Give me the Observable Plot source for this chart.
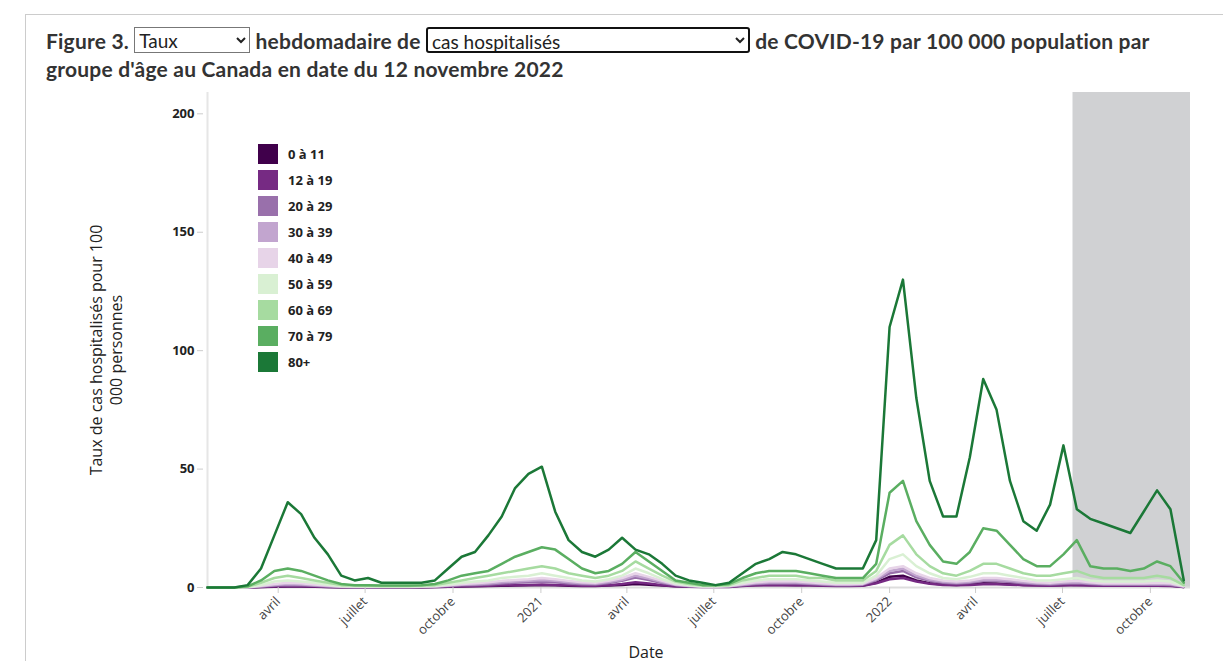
<!DOCTYPE html>
<html>
<head>
<meta charset="utf-8">
<script src="https://cdn.jsdelivr.net/npm/d3@7"></script>
<script src="https://cdn.jsdelivr.net/npm/@observablehq/plot@0.6"></script>
<style>
  body { margin: 0; background: #fff; font-family: Lato, "Open Sans", sans-serif; }
  #frame { position: absolute; left: 25px; top: 14px; width: 1205px; height: 660px; border: 1px solid #ccc; border-bottom: none; }
  #title { position: absolute; left: 46px; top: 27px; width: 1170px; font-size: 21px; font-weight: bold; color: #333; line-height: 28px; letter-spacing: 0.2px; white-space: nowrap; }
  #title select { font-family: Lato, sans-serif; font-size: 19px; color: #222; background: #fff; border: 1px solid #777; height: 26px; vertical-align: top; margin-top: 0px; letter-spacing: 0; }
  #chart { position: absolute; left: 0; top: 88px; }
  #ylabel { position: absolute; left: 38px; top: 350px; width: 300px; transform: translate(-50%, -50%) rotate(-90deg); transform-origin: 50% 50%; margin-left: 68px; text-align: center; font-family: "Open Sans", sans-serif; font-size: 16px; color: #222; line-height: 20px; }
  #legend { position: absolute; left: 258px; top: 144px; font-family: "Open Sans", sans-serif; font-size: 13px; font-weight: bold; color: #222; }
  #legend div { height: 26px; display: flex; align-items: flex-start; }
  #legend span.sw { display: inline-block; width: 20px; height: 20px; margin-right: 10px; }
  #legend span.tx { line-height: 20px; }
</style>
</head>
<body>
<div id="frame"></div>
<div id="title">Figure 3. <select style="width:116px"><option>Taux</option></select> hebdomadaire de <select style="width:324px;border:2px solid #111;border-radius:3px"><option>cas hospitalisés</option></select> de COVID-19 par 100 000 population par<br>groupe d'âge au Canada en date du 12 novembre 2022</div>
<div id="chart"></div>
<div id="ylabel">Taux de cas hospitalisés pour 100<br>000 personnes</div>
<div id="legend"></div>
<script>
const groups = ["0 à 11", "12 à 19", "20 à 29", "30 à 39", "40 à 49", "50 à 59", "60 à 69", "70 à 79", "80+"];
const colors = ["#40004b", "#762a83", "#9970ab", "#c2a5cf", "#e7d4e8", "#d9f0d3", "#a6dba0", "#5aae61", "#1b7837"];

const a0 = [0,0,0,0,0.2,0.3,0.4,0.4,0.3,0.2,0.1,0.1,0.1,0.1,0.1,0.1,0.1,0.2,0.3,0.4,0.5,0.6,0.7,0.8,0.9,1,0.9,0.7,0.6,0.6,0.8,1.1,1.5,1.2,0.8,0.5,0.4,0.3,0.3,0.4,0.8,1,1.1,1.1,1,0.9,0.8,0.7,0.7,0.8,2,4.5,5,3,1.8,1.3,1.1,1.4,1.8,1.7,1.4,1.1,0.9,0.8,1,1.2,1,0.9,0.9,0.9,0.9,1,0.8,0.2];
const a12 = [0,0,0,0,0.2,0.4,0.5,0.5,0.4,0.2,0.1,0.1,0.1,0.1,0.1,0.1,0.1,0.2,0.3,0.5,0.6,0.7,0.9,1,1.1,1.3,1.1,0.9,0.7,0.7,1,1.5,2.2,1.7,1,0.5,0.3,0.2,0.2,0.2,0.6,0.9,1,1,1,0.9,0.7,0.6,0.6,0.7,1.8,3.5,4,2.5,1.6,1.1,0.9,1.1,1.4,1.4,1.2,1,0.8,0.7,0.9,1,0.8,0.7,0.7,0.7,0.7,0.7,0.6,0.2];
const a20 = [0,0,0,0,0.4,0.8,1.1,1,0.7,0.4,0.2,0.2,0.2,0.2,0.2,0.2,0.2,0.3,0.6,0.9,1.1,1.3,1.7,2,2.2,2.5,2.2,1.7,1.4,1.3,1.9,2.8,4.2,3.2,1.9,1,0.5,0.3,0.3,0.4,1,1.5,1.7,1.7,1.7,1.5,1.2,1,1,1.2,3,6,7,4.3,2.8,2,1.7,2,2.7,2.7,2.3,1.8,1.5,1.3,1.6,1.8,1.5,1.2,1.2,1.2,1.2,1.3,1.1,0.3];
const a30 = [0,0,0,0.1,0.5,1.1,1.5,1.3,1,0.6,0.3,0.2,0.2,0.2,0.2,0.2,0.3,0.4,0.8,1.2,1.4,1.7,2.2,2.5,2.8,3.2,2.8,2.2,1.8,1.6,2.3,3.3,5,3.8,2.3,1.2,0.6,0.3,0.3,0.5,1.2,1.8,2.1,2.1,2.1,1.8,1.5,1.2,1.2,1.4,3.5,7,8,5,3.3,2.4,2,2.4,3.2,3.2,2.8,2.2,1.8,1.6,2,2.2,1.8,1.5,1.5,1.5,1.5,1.6,1.4,0.4];
const a40 = [0,0,0,0.1,0.7,1.5,2,1.8,1.3,0.8,0.4,0.3,0.3,0.3,0.3,0.3,0.4,0.5,1,1.5,1.8,2.2,2.8,3.2,3.5,4,3.5,2.8,2.2,2,2.8,4,6,4.5,2.8,1.4,0.8,0.4,0.4,0.6,1.5,2.2,2.6,2.6,2.6,2.2,1.8,1.5,1.5,1.6,4,8,9,6,4,3,2.5,3,4,4,3.5,2.8,2.2,2,2.5,2.8,2.2,1.8,1.8,1.8,1.8,2,1.8,0.5];
const a50 = [0,0,0,0.2,1,2.5,3,2.5,2,1.2,0.6,0.5,0.4,0.4,0.4,0.4,0.5,0.7,1.3,2,2.5,3,4,4.5,5,6,5,4,3,2.5,3.5,5,8,6,3.5,1.8,1,0.5,0.5,0.8,2,3,3.5,3.5,3.5,3,2.5,2,2,2,5,12,14,9,6,4,3.5,4.5,6,6,5,4,3,3,3.5,4,3,2.5,2.5,2.5,2.5,3,2.5,0.8];
const a60 = [0,0,0,0.3,2,4,5,4,3,2,1,0.8,0.7,0.6,0.6,0.6,0.8,1,2,3,4,5,6,7,8,9,8,6,5,4,5,7,11,8,5,2.5,1.5,0.8,0.8,1,3,4,5,5,5,4,4,3,3,3,7,18,22,14,9,6,5,7,10,10,8,6,5,5,6,7,5,4,4,4,4,5,4,1];
const a70 = [0,0,0,0.5,3,7,8,7,5,3,1.5,1,1,0.8,0.8,0.8,1,1.5,3,5,6,7,10,13,15,17,16,12,8,6,7,10,15,11,7,3,2,1,1,1.5,4,6,7,7,7,6,5,4,4,4,10,40,45,28,18,11,10,15,25,24,18,12,9,9,14,20,9,8,8,7,8,11,9,2];
const a80 = [0,0,0,1,8,22,36,31,21,14,5,3,4,2,2,2,2,3,8,13,15,22,30,42,48,51,32,20,15,13,16,21,16,14,10,5,3,2,1,2,6,10,12,15,14,12,10,8,8,8,20,110,130,80,45,30,30,55,88,75,45,28,24,35,60,33,29,27,25,23,32,41,33,3];
const seriesValues = [a0, a12, a20, a30, a40, a50, a60, a70, a80];

const start = new Date(2020, 0, 18);
const dates = a80.map((_, i) => d3.timeDay.offset(start, 14 * i));
const shadeStart = new Date(2022, 6, 12);
const shadeEnd = new Date(2022, 10, 12);
const tickDates = [new Date(2020,3,1), new Date(2020,6,1), new Date(2020,9,1), new Date(2021,0,1), new Date(2021,3,1), new Date(2021,6,1), new Date(2021,9,1), new Date(2022,0,1), new Date(2022,3,1), new Date(2022,6,1), new Date(2022,9,1)];
const monthNames = {3: "avril", 6: "juillet", 9: "octobre"};
const fmt = d => d.getMonth() === 0 ? String(d.getFullYear()) : monthNames[d.getMonth()];

const rows = [];
groups.forEach((g, gi) => {
  seriesValues[gi].forEach((v, i) => rows.push({group: g, date: dates[i], value: v}));
});

const chart = Plot.plot({
  width: 1210,
  height: 573,
  marginTop: 4,
  marginLeft: 207,
  marginRight: 20,
  marginBottom: 74,
  style: {fontFamily: "'Open Sans', sans-serif", fontSize: "12px", color: "#222"},
  x: {type: "time", domain: [start, shadeEnd], label: null},
  y: {domain: [0, 209], label: null},
  color: {domain: groups, range: colors},
  marks: [
    Plot.rectY([{x1: shadeStart, x2: shadeEnd}], {x1: "x1", x2: "x2", y1: 0, y2: 209, fill: "#d0d1d3"}),
    Plot.ruleX([start], {stroke: "#e6e6e6", strokeWidth: 2}),
    Plot.ruleY([0], {stroke: "#ddd", strokeWidth: 2}),
    Plot.line(rows, {x: "date", y: "value", z: "group", stroke: "group", strokeWidth: 2.5}),
    Plot.axisY({ticks: [0, 50, 100, 150, 200], tickSize: 6, stroke: "#ccc", fontWeight: "bold", fontSize: 13, dx: -4}),
    Plot.axisX({ticks: tickDates, tickRotate: -45, stroke: "#ccc", fontSize: 13, fill: "#444", tickFormat: fmt}),
    Plot.text(["Date"], {frameAnchor: "bottom", dy: 70, fontSize: 16, fill: "#222", dx: -53})
  ]
});
document.getElementById("chart").append(chart);

const legend = d3.select("#legend");
groups.forEach((g, i) => {
  const row = legend.append("div");
  row.append("span").attr("class", "sw").style("background", colors[i]);
  row.append("span").attr("class", "tx").text(g);
});
</script>
</body>
</html>
